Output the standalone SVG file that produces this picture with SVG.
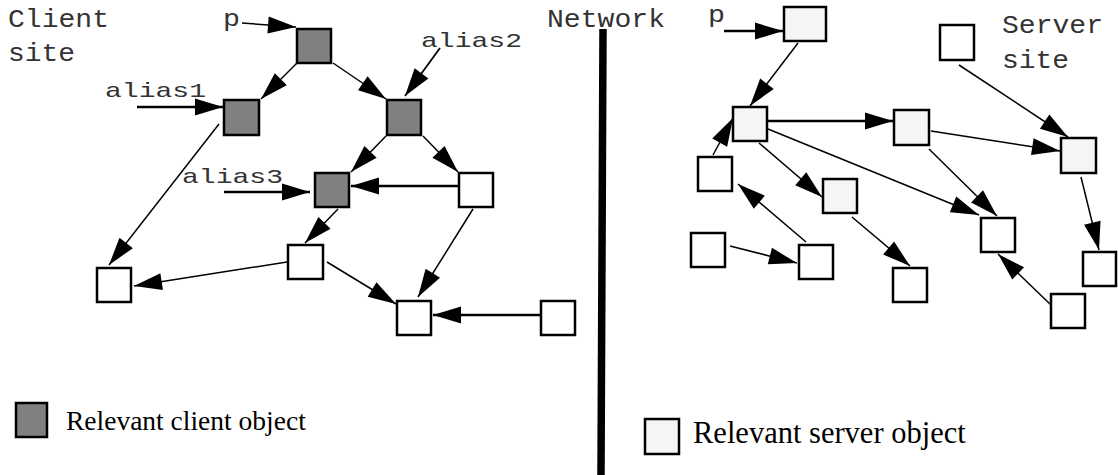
<svg xmlns="http://www.w3.org/2000/svg" width="1118" height="475" viewBox="0 0 1118 475">
<style>
.n{stroke:#000;stroke-width:2.5}
.c{fill:#808080}
.s{fill:#f5f5f5}
.w{fill:#fff}
.lbl{font-family:"Liberation Mono","DejaVu Sans Mono",monospace;fill:#333}
.leg{font-family:"Liberation Serif","Times New Roman",serif;fill:#000}
.e{fill:none;stroke:#000;stroke-width:1.5;marker-end:url(#ah)}
.t{stroke-width:2.7}
</style>
<defs>
<marker id="ah" markerUnits="userSpaceOnUse" markerWidth="28" markerHeight="17" refX="28" refY="8.5" orient="auto" overflow="visible">
<path d="M0,0 L28,8.5 L0,17 z" fill="#000"/>
</marker>
</defs>
<rect width="1118" height="475" fill="#fff"/>
<g id="labels">
<text class="lbl" x="8" y="27" font-size="25" textLength="101" lengthAdjust="spacingAndGlyphs">Client</text>
<text class="lbl" x="8" y="61" font-size="25" textLength="67" lengthAdjust="spacingAndGlyphs">site</text>
<text class="lbl" x="223" y="26" font-size="24" textLength="17" lengthAdjust="spacingAndGlyphs">p</text>
<text class="lbl" x="105" y="97" font-size="21" textLength="101" lengthAdjust="spacingAndGlyphs">alias1</text>
<text class="lbl" x="421" y="47" font-size="21" textLength="101" lengthAdjust="spacingAndGlyphs">alias2</text>
<text class="lbl" x="182" y="183" font-size="21" textLength="101" lengthAdjust="spacingAndGlyphs">alias3</text>
<text class="lbl" x="547" y="27" font-size="25" textLength="118" lengthAdjust="spacingAndGlyphs">Network</text>
<text class="lbl" x="708" y="22" font-size="24" textLength="17" lengthAdjust="spacingAndGlyphs">p</text>
<text class="lbl" x="1002" y="33" font-size="25" textLength="101" lengthAdjust="spacingAndGlyphs">Server</text>
<text class="lbl" x="1002" y="68" font-size="25" textLength="67" lengthAdjust="spacingAndGlyphs">site</text>
</g>
<line id="network" x1="603" y1="29" x2="601" y2="475" stroke="#000" stroke-width="7.5"/>
<g id="connectors">
<path class="e" d="M242,23 L296,27"/>
<path class="e t" d="M137,107 L223,107"/>
<path class="e" d="M297,63 L261,99"/>
<path class="e" d="M333,63 L386,99"/>
<path class="e" style="stroke-width:1.8" d="M440,48 L405,96"/>
<path class="e" d="M386,136 L351,172"/>
<path class="e" d="M423,136 L458,172"/>
<path class="e" d="M219,124 L109,265"/>
<path class="e t" d="M224,192 L310,192"/>
<path class="e t" d="M459,186 L351,186"/>
<path class="e" d="M338,209 L305,243"/>
<path class="e" d="M287,262 L134,286"/>
<path class="e" d="M327,262 L396,304"/>
<path class="e" d="M473,209 L418,297"/>
<path class="e t" d="M542,315 L433,315"/>
<path class="e t" d="M724,31 L783,31"/>
<path class="e" d="M798,43 L750,106"/>
<path class="e" d="M713,155 L733,118"/>
<path class="e t" d="M765,121 L893,121"/>
<path class="e" d="M759,143 L822,197"/>
<path class="e" d="M768,129 L979,215"/>
<path class="e" d="M929,149 L997,216"/>
<path class="e" d="M931,131 L1060,151"/>
<path class="e" d="M959,65 L1068,137"/>
<path class="e" d="M1081,177 L1099,250"/>
<path class="e" d="M1051,305 L998,254"/>
<path class="e" d="M852,217 L910,266"/>
<path class="e" d="M806,242 L738,184"/>
<path class="e" d="M730,246 L797,263"/>
</g>
<g id="node-p"><rect class="n c" x="297" y="29" width="34" height="34"/></g>
<g id="node-alias1"><rect class="n c" x="224" y="100" width="35" height="35"/></g>
<g id="node-alias2"><rect class="n c" x="387" y="100" width="34" height="35"/></g>
<g id="node-alias3"><rect class="n c" x="315" y="173" width="34" height="34"/></g>
<g id="node-c1"><rect class="n w" x="459" y="173" width="34" height="34"/></g>
<g id="node-c2"><rect class="n w" x="288" y="245" width="35" height="34"/></g>
<g id="node-c3"><rect class="n w" x="397" y="301" width="34" height="34"/></g>
<g id="node-c4"><rect class="n w" x="541" y="301" width="34" height="34"/></g>
<g id="node-c5"><rect class="n w" x="97" y="268" width="34" height="34"/></g>
<g id="node-sp"><rect class="n s" x="784" y="7" width="42" height="34"/></g>
<g id="node-hub"><rect class="n s" x="733" y="107" width="34" height="34"/></g>
<g id="node-s1"><rect class="n w" x="698" y="157" width="34" height="34"/></g>
<g id="node-g2"><rect class="n s" x="823" y="179" width="34" height="34"/></g>
<g id="node-g3"><rect class="n s" x="894" y="110" width="35" height="35"/></g>
<g id="node-top"><rect class="n w" x="940" y="25" width="34" height="35"/></g>
<g id="node-g4"><rect class="n s" x="1061" y="138" width="35" height="35"/></g>
<g id="node-wl"><rect class="n w" x="691" y="233" width="34" height="34"/></g>
<g id="node-wm"><rect class="n w" x="799" y="245" width="34" height="34"/></g>
<g id="node-wlow"><rect class="n w" x="893" y="268" width="34" height="34"/></g>
<g id="node-wt"><rect class="n w" x="981" y="218" width="34" height="34"/></g>
<g id="node-wr"><rect class="n w" x="1083" y="252" width="33" height="34"/></g>
<g id="node-wb"><rect class="n w" x="1051" y="294" width="34" height="34"/></g>
<g id="legend-client">
<rect class="n c" x="16" y="403" width="31" height="34"/>
<text class="leg" x="66" y="430" font-size="27.5">Relevant client object</text>
</g>
<g id="legend-server">
<rect class="n s" x="645" y="419" width="34" height="35"/>
<text class="leg" x="693" y="443" font-size="30.5">Relevant server object</text>
</g>
</svg>
